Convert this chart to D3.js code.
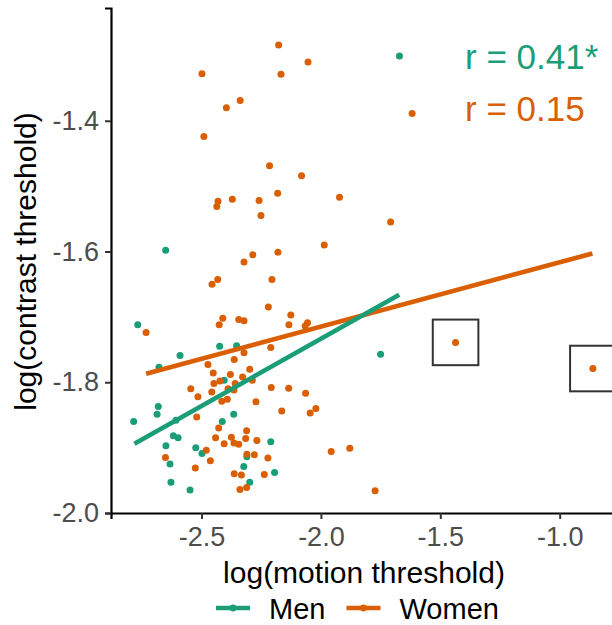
<!DOCTYPE html>
<html>
<head>
<meta charset="utf-8">
<script src="https://d3js.org/d3.v7.min.js"></script>
<style>
  body { margin: 0; background: #fff; }
  text { font-family: "Liberation Sans", Arial, sans-serif; }
</style>
</head>
<body>
<div id="my_dataviz"></div>
<script>
// data (log motion threshold, log contrast threshold)
var menX = [-2.650, -2.767, -2.424, -2.353, -2.590, -2.678, -2.405, -2.681, -2.686, -2.784,
            -2.607, -2.413, -2.365, -2.618, -2.598, -2.210, -2.649, -2.524, -2.498, -2.310,
            -2.632, -2.323, -2.194, -2.628, -2.298, -2.548, -1.671, -1.750];
var menY = [-1.598, -1.712, -1.745, -1.744, -1.759, -1.777, -1.797, -1.837, -1.849, -1.860,
            -1.858, -1.860, -1.849, -1.882, -1.885, -1.891, -1.897, -1.900, -1.909, -1.914,
            -1.925, -1.929, -1.938, -1.953, -1.953, -1.965, -1.301, -1.757];

var womenX = [-2.177, -2.054, -2.498, -2.167, -2.338, -2.396, -2.490, -2.215, -2.081, -2.181,
              -1.922, -2.431, -2.436, -2.371, -2.259, -2.251, -1.986, -2.180, -2.285, -2.322,
              -2.432, -2.456, -2.205, -2.220, -2.126, -2.411, -2.426, -2.344, -2.322, -2.134,
              -2.056, -2.066, -2.732, -2.210, -2.473, -2.363, -2.322, -2.451, -2.379, -2.298,
              -2.448, -2.359, -2.328, -2.287, -2.545, -2.457, -2.389, -2.364, -2.208, -2.135,
              -2.064, -2.515, -2.415, -2.392, -2.272, -2.164, -2.045, -2.021, -2.520, -2.428,
              -2.311, -2.441, -2.375, -2.405, -2.364, -2.344, -2.315, -2.268, -2.480, -2.310,
              -2.279, -2.651, -2.463, -2.222, -1.957, -1.879, -2.526, -2.363, -2.333, -2.237,
              -2.339, -2.311, -1.773, -1.708, -1.618, -1.436, -0.861, -2.423];
var womenY = [-1.284, -1.310, -1.328, -1.329, -1.369, -1.380, -1.424, -1.469, -1.484, -1.511,
              -1.517, -1.523, -1.531, -1.520, -1.522, -1.545, -1.590, -1.601, -1.605, -1.616,
              -1.643, -1.650, -1.643, -1.685, -1.697, -1.702, -1.712, -1.704, -1.706, -1.712,
              -1.709, -1.714, -1.724, -1.747, -1.773, -1.765, -1.755, -1.786, -1.788, -1.780,
              -1.802, -1.802, -1.792, -1.797, -1.810, -1.815, -1.810, -1.812, -1.808, -1.809,
              -1.817, -1.822, -1.829, -1.826, -1.830, -1.844, -1.847, -1.840, -1.853, -1.870,
              -1.874, -1.885, -1.884, -1.894, -1.893, -1.895, -1.886, -1.889, -1.904, -1.910,
              -1.911, -1.915, -1.920, -1.916, -1.906, -1.901, -1.931, -1.940, -1.942, -1.941,
              -1.964, -1.961, -1.966, -1.555, -1.389, -1.739, -1.779, -1.798];

// fitted regression lines (endpoints as drawn)
var fitMenX = [-2.781, -1.672];
var fitMenY = [-1.894, -1.666];
var fitWomenX = [-2.732, -0.863];
var fitWomenY = [-1.787, -1.603];

// outliers marked with a square
var boxedX = [-1.436, -0.861];
var boxedY = [-1.739, -1.779];

var xTicks = [-2.5, -2.0, -1.5, -1.0];
var yTicks = [-2.0, -1.8, -1.6, -1.4];
var groups = ["Men", "Women"];
var rLabels = ["r = 0.41*", "r = 0.15"];

var colors = {Men: "#1B9E77", Women: "#D95F02"};

var width = 612, height = 625;
var panel = {left: 111, right: 617, top: 8, bottom: 513};

var svg = d3.select("#my_dataviz")
  .append("svg")
  .attr("width", width)
  .attr("height", height);

svg.append("rect").attr("width", width).attr("height", height).attr("fill", "#fff");

var x = d3.scaleLinear()
  .domain([-2.879, -0.76])
  .range([panel.left, panel.right]);

var y = d3.scaleLinear()
  .domain([-2.0, -1.2275])
  .range([panel.bottom, panel.top]);

// axes
var xAxis = svg.append("g")
  .attr("transform", "translate(0," + panel.bottom + ")")
  .call(d3.axisBottom(x).tickValues(xTicks).tickSizeOuter(0).tickSize(6).tickPadding(6));

var yAxis = svg.append("g")
  .attr("transform", "translate(" + panel.left + ",0)")
  .call(d3.axisLeft(y).tickValues(yTicks).tickSizeOuter(0).tickSize(6).tickPadding(6));

svg.selectAll(".domain").attr("stroke", "#000").attr("stroke-width", 2.2);
svg.selectAll(".tick line").attr("stroke", "#333").attr("stroke-width", 2);
svg.selectAll(".tick text")
  .attr("fill", "#4D4D4D")
  .style("font-size", "27px")
  .text(function(d) { return d3.format(".1f")(d).replace("−", "-"); });
xAxis.selectAll(".tick text").attr("dy", "0.78em");

// axis titles
svg.append("text")
  .attr("x", (panel.left + panel.right) / 2)
  .attr("y", 583)
  .attr("text-anchor", "middle")
  .style("font-size", "30px")
  .attr("fill", "#000")
  .text("log(motion threshold)");

svg.append("text")
  .attr("transform", "translate(36," + ((panel.top + panel.bottom) / 2 + 1) + ") rotate(-90)")
  .attr("text-anchor", "middle")
  .style("font-size", "30px")
  .attr("fill", "#000")
  .text("log(contrast threshold)");

// points
var men = menX.map(function(v, i) { return {x: v, y: menY[i]}; });
var women = womenX.map(function(v, i) { return {x: v, y: womenY[i]}; });

svg.selectAll("circle.men")
  .data(men).enter().append("circle")
  .attr("class", "men")
  .attr("cx", function(d) { return x(d.x); })
  .attr("cy", function(d) { return y(d.y); })
  .attr("r", 3.5)
  .attr("fill", colors.Men);

svg.selectAll("circle.women")
  .data(women).enter().append("circle")
  .attr("class", "women")
  .attr("cx", function(d) { return x(d.x); })
  .attr("cy", function(d) { return y(d.y); })
  .attr("r", 3.5)
  .attr("fill", colors.Women);

// regression lines
var line = d3.line().x(function(d) { return x(d[0]); }).y(function(d) { return y(d[1]); });

svg.append("path")
  .datum(fitWomenX.map(function(v, i) { return [v, fitWomenY[i]]; }))
  .attr("d", line)
  .attr("fill", "none")
  .attr("stroke", colors.Women)
  .attr("stroke-width", 4.6);

svg.append("path")
  .datum(fitMenX.map(function(v, i) { return [v, fitMenY[i]]; }))
  .attr("d", line)
  .attr("fill", "none")
  .attr("stroke", colors.Men)
  .attr("stroke-width", 4.6);

// squares around the two outliers
var half = 22.8;
svg.selectAll("rect.box")
  .data(boxedX.map(function(v, i) { return {x: v, y: boxedY[i]}; }))
  .enter().append("rect")
  .attr("class", "box")
  .attr("x", function(d) { return x(d.x) - half; })
  .attr("y", function(d) { return y(d.y) - half; })
  .attr("width", half * 2)
  .attr("height", half * 2)
  .attr("fill", "none")
  .attr("stroke", "#333")
  .attr("stroke-width", 2);

// correlation labels
svg.selectAll("text.rlab")
  .data(rLabels).enter().append("text")
  .attr("class", "rlab")
  .attr("x", 465)
  .attr("y", function(d, i) { return 69 + i * 52; })
  .style("font-size", "35px")
  .attr("fill", function(d, i) { return colors[groups[i]]; })
  .text(function(d) { return d; });

// legend
var legendX = [216, 346.5];
var legend = svg.selectAll("g.leg")
  .data(groups).enter().append("g")
  .attr("class", "leg")
  .attr("transform", function(d, i) { return "translate(" + legendX[i] + ",608)"; });

legend.append("line")
  .attr("x1", 0).attr("x2", 34)
  .attr("stroke", function(d) { return colors[d]; })
  .attr("stroke-width", 4.6);

legend.append("circle")
  .attr("cx", 17).attr("r", 3.4)
  .attr("fill", function(d) { return colors[d]; });

legend.append("text")
  .attr("x", 53)
  .attr("y", 11)
  .style("font-size", "29px")
  .attr("fill", "#000")
  .text(function(d) { return d; });
</script>
</body>
</html>
